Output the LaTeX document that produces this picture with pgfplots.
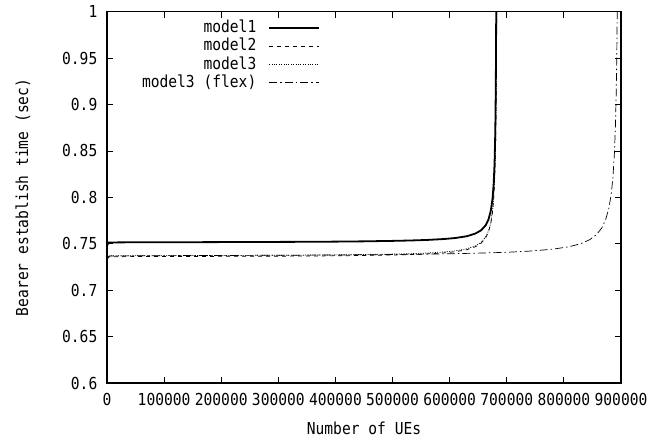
\documentclass[border=0pt]{standalone}
\usepackage{fontspec}
\setmainfont{DejaVu Sans Mono}[FakeStretch=0.885]
\setmonofont{DejaVu Sans Mono}[FakeStretch=0.885]
\usepackage{pgfplots}
\pgfplotsset{compat=1.18}
\begin{document}
\fontsize{16.5pt}{18pt}\selectfont
\begin{tikzpicture}
\useasboundingbox (0,0) rectangle (669pt,441pt);
\begin{axis}[
  at={(107pt,58pt)}, anchor=south west,
  scale only axis, width=514pt, height=371.3pt,
  xmin=0, xmax=900000, ymin=0.6, ymax=1,
  xtick={0,100000,200000,300000,400000,500000,600000,700000,800000,900000},
  xticklabels={0,100000,200000,300000,400000,500000,600000,700000,800000,900000},
  ytick={0.6,0.65,0.7,0.75,0.8,0.85,0.9,0.95,1},
  yticklabels={0.6,0.65,0.7,0.75,0.8,0.85,0.9,0.95,1},
  scaled x ticks=false,
  /pgf/number format/assume math mode=true,
  tick label style={font=\fontsize{16.5pt}{18pt}\selectfont, text=black},
  xticklabel style={yshift=-5pt},
  yticklabel style={xshift=-4pt},
  tick align=inside, major tick length=6pt,
  tick style={black, line width=0.8pt},
  axis line style={black, line width=1.2pt},
  every axis x label/.style={at={(axis description cs:0.5,-0.1212)}, anchor=center},
  every axis y label/.style={at={(axis description cs:-0.1634,0.5)}, rotate=90, anchor=center},
  xlabel={Number of UEs},
  ylabel={Bearer establish time (sec)},
  label style={font=\fontsize{16.5pt}{18pt}\selectfont},
  legend style={draw=none, fill=none, at={(rel axis cs:0.415,0.983)}, anchor=north east,
    font=\fontsize{16.5pt}{18pt}\selectfont, row sep=-1pt, column sep=10pt, inner sep=0pt},
  legend cell align=right,
  legend plot pos=right,
  legend image code/.code={\draw[#1] (0pt,0pt) -- (50pt,0pt);},
]
% model1
\addplot[black, line width=1.8pt] coordinates {
(0,0.748) (3000,0.7514) (50000,0.7516) (100000,0.7516) (150000,0.7517) (200000,0.7518)
(250000,0.7519) (300000,0.7520) (350000,0.7521) (400000,0.7523) (450000,0.7526)
(500000,0.7531) (530000,0.7535) (560000,0.7541) (590000,0.7551) (610000,0.7562)
(630000,0.7581) (645000,0.7610) (655000,0.7645) (663000,0.7699) (668000,0.7762)
(672000,0.7854) (675000,0.7983) (677000,0.814) (678500,0.835) (679500,0.859)
(680200,0.886) (680800,0.9228) (681200,0.961) (681500,1.003)
};
\addlegendentry{model1}
% model2
\addplot[black, line width=0.7pt, dash pattern=on 4pt off 4pt] coordinates {
(0,0.7335) (4000,0.7360) (50000,0.7362) (100000,0.7362) (150000,0.7363) (200000,0.7364)
(250000,0.7365) (300000,0.7366) (350000,0.7368) (400000,0.7370) (450000,0.7374)
(500000,0.7379) (530000,0.7383) (560000,0.7390) (590000,0.7402) (610000,0.7414)
(630000,0.7436) (645000,0.7467) (655000,0.7506) (663000,0.7563) (668000,0.7628)
(672000,0.7719) (675000,0.7841) (677000,0.7979) (678500,0.815) (679500,0.8326)
(680500,0.8604) (681200,0.8916) (681800,0.9341) (682300,0.9925) (682400,1.0086)
};
\addlegendentry{model2}
% model3
\addplot[black, line width=0.7pt, dash pattern=on 1pt off 1.4pt] coordinates {
(0,0.7345) (4000,0.7370) (50000,0.7372) (100000,0.7372) (150000,0.7373) (200000,0.7374)
(250000,0.7375) (300000,0.7376) (350000,0.7378) (400000,0.7380) (450000,0.7384)
(500000,0.7389) (530000,0.7393) (560000,0.7400) (590000,0.7412) (610000,0.7424)
(630000,0.7446) (645000,0.7477) (655000,0.7516) (663000,0.7573) (668000,0.7638)
(672000,0.7729) (675000,0.7851) (677000,0.7989) (678500,0.816) (679500,0.8336)
(680500,0.8614) (681200,0.8926) (681800,0.9351) (682300,0.9935) (682400,1.0096)
};
\addlegendentry{model3}
% model3 (flex)
\addplot[black, line width=0.7pt, dash pattern=on 8pt off 3pt on 1.5pt off 3pt] coordinates {
(0,0.7340) (4000,0.7368) (100000,0.7372) (200000,0.7374) (300000,0.7376) (400000,0.7379)
(500000,0.7384) (600000,0.7392) (650000,0.7399) (700000,0.7408) (740000,0.7421)
(780000,0.7441) (810000,0.7469) (830000,0.7502) (845000,0.7543) (857000,0.7598)
(866000,0.7667) (873000,0.7757) (879000,0.7889) (883000,0.804) (886000,0.8225)
(888500,0.848) (890300,0.8781) (891600,0.9123) (892600,0.9524) (893400,1.0004)
};
\addlegendentry{model3 (flex)}
\end{axis}
\end{tikzpicture}
\end{document}
